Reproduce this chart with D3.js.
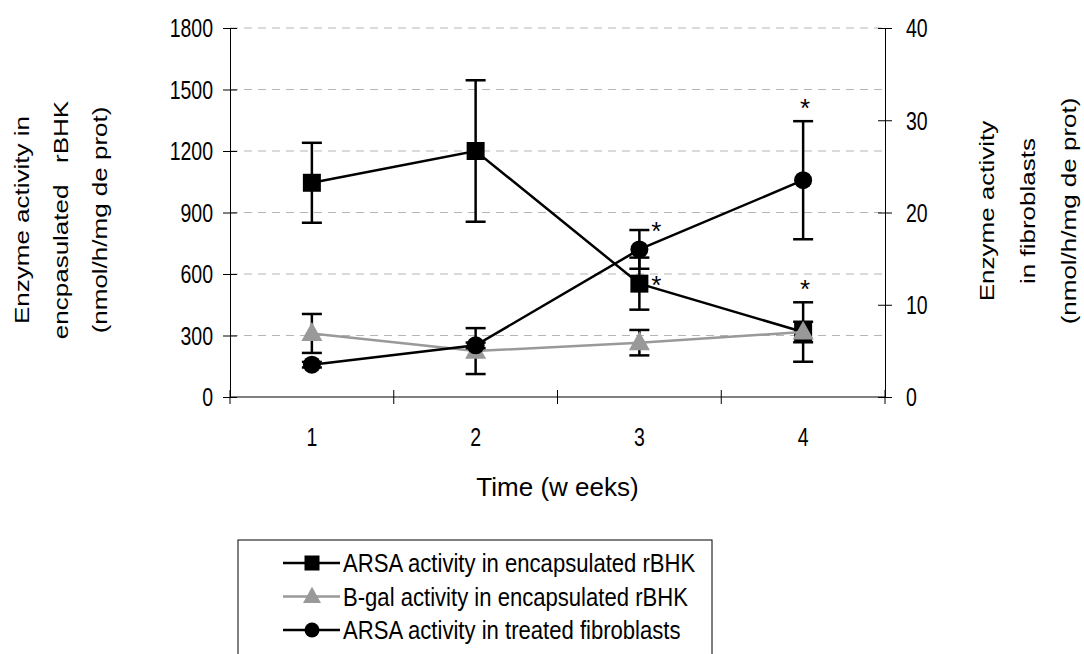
<!DOCTYPE html>
<html lang="en">
<head>
<meta charset="UTF-8">
<title>Enzyme activity over time</title>
<script src="https://d3js.org/d3.v7.min.js"></script>
<style>
  body { margin: 0; background: #fff; }
  svg { display: block; font-family: "Liberation Sans", Arial, sans-serif; }
  text { fill: #000; }
</style>
</head>
<body>
<svg width="1084" height="654"></svg>
<script>
const weeks = [1, 2, 3, 4];
const leftTicks = [0, 300, 600, 900, 1200, 1500, 1800];
const rightTicks = [0, 10, 20, 30, 40];

// left axis (nmol/h/mg prot)
const arsaRbhk = [1045, 1200, 553, 317];
const arsaRbhkErr = [195, 345, 127, 145];
const bgalRbhk = [310, 224, 265, 317];
const bgalRbhkErr = [95, 112, 62, 50];
// right axis
const arsaFibro = [3.5, 5.6, 16.0, 23.5];
const arsaFibroErr = [0.3, 0.3, 2.1, 6.4];

const seriesNames = [
  "ARSA activity in encapsulated rBHK",
  "B-gal activity in encapsulated rBHK",
  "ARSA activity in treated fibroblasts"
];

// significance marks
const stars = [
  { series: 2, week: 3, at: "cap", side: "right" },
  { series: 0, week: 3, at: "marker", side: "right" },
  { series: 2, week: 4, at: "cap", side: "above" },
  { series: 0, week: 4, at: "cap", side: "above" }
];

const svg = d3.select("svg");
const plotL = 230, plotR = 885, plotT = 28, plotB = 397;
const fs = 26;       // text is tall and narrow in the original
const sxTick = 0.75, sxLegend = 0.85;

const x = d3.scaleBand().domain(weeks).range([plotL, plotR]);
const yL = d3.scaleLinear().domain([0, 1800]).range([plotB, plotT]);
const yR = d3.scaleLinear().domain([0, 40]).range([plotB, plotT]);
const cx = w => x(w) + x.bandwidth() / 2;

// squeeze tick labels horizontally around their anchor
function narrowTicks(g, sx) {
  g.selectAll(".tick text").each(function() {
    const t = d3.select(this);
    const tx = +t.attr("x") || 0;
    t.attr("x", 0).attr("transform", `translate(${tx},0) scale(${sx},1)`);
  });
}

// gridlines
svg.append("g").selectAll("line")
  .data(leftTicks.slice(1))
  .join("line")
  .attr("x1", plotL).attr("x2", plotR)
  .attr("y1", d => yL(d)).attr("y2", d => yL(d))
  .attr("stroke", "#b5b5b5")
  .attr("stroke-dasharray", "8,6");

// x axis
svg.append("line")
  .attr("x1", plotL).attr("x2", plotR)
  .attr("y1", yL(0)).attr("y2", yL(0))
  .attr("stroke", "#808080").attr("stroke-width", 2);

const bounds = weeks.map(w => x(w)).concat([x.range()[1]]);
svg.append("g").selectAll("line")
  .data(bounds)
  .join("line")
  .attr("x1", d => d).attr("x2", d => d)
  .attr("y1", yL(0) - 7).attr("y2", yL(0) + 7)
  .attr("stroke", "#000");

svg.append("g")
  .attr("transform", `translate(0,${yL(0)})`)
  .call(d3.axisBottom(x).tickSize(0).tickPadding(31))
  .call(g => g.select(".domain").remove())
  .call(g => narrowTicks(g, sxTick))
  .attr("font-size", fs).attr("font-family", null);

// left axis
svg.append("g")
  .attr("transform", `translate(${plotL},0)`)
  .call(d3.axisLeft(yL).tickValues(leftTicks).tickFormat(d3.format("d"))
    .tickSize(7).tickSizeOuter(0).tickPadding(10))
  .call(g => g.selectAll(".tick line").attr("x1", 7))
  .call(g => g.selectAll(".tick text").attr("dy", "0.34em"))
  .call(g => narrowTicks(g, sxTick))
  .attr("font-size", fs).attr("font-family", null);

// right axis
svg.append("g")
  .attr("transform", `translate(${plotR},0)`)
  .call(d3.axisRight(yR).tickValues(rightTicks).tickFormat(d3.format("d"))
    .tickSize(7).tickSizeOuter(0).tickPadding(14))
  .call(g => g.selectAll(".tick line").attr("x1", -7))
  .call(g => g.selectAll(".tick text").attr("dy", "0.34em"))
  .call(g => narrowTicks(g, sxTick))
  .attr("font-size", fs).attr("font-family", null);

// axis titles
svg.append("text")
  .attr("transform", `translate(${(plotL + plotR) / 2},487)`)
  .attr("dy", "0.35em")
  .attr("text-anchor", "middle").attr("font-size", fs)
  .text("Time (w eeks)");

const leftTitle = ["Enzyme activity in", "encpasulated   rBHK", "(nmol/h/mg de prot)"];
svg.append("g").selectAll("text")
  .data(leftTitle)
  .join("text")
  .attr("transform", (d, i) => `translate(${22 + i * 39},220) rotate(-90) scale(1,0.8)`)
  .attr("dy", "0.35em").attr("text-anchor", "middle").attr("font-size", fs)
  .style("white-space", "pre")
  .text(d => d);

const rightTitle = ["Enzyme activity", "in fibroblasts", "(nmol/h/mg de prot)"];
svg.append("g").selectAll("text")
  .data(rightTitle)
  .join("text")
  .attr("transform", (d, i) => `translate(${987 + i * 41},211) rotate(-90) scale(1,0.8)`)
  .attr("dy", "0.35em").attr("text-anchor", "middle").attr("font-size", fs)
  .text(d => d);

// series
const series = [
  { vals: arsaRbhk, err: arsaRbhkErr, y: yL, color: "#000", shape: "square" },
  { vals: bgalRbhk, err: bgalRbhkErr, y: yL, color: "#999999", shape: "triangle" },
  { vals: arsaFibro, err: arsaFibroErr, y: yR, color: "#000", shape: "circle" }
];

function markerPath(shape, s) {
  if (shape === "square") return d3.symbol(d3.symbolSquare, s * s)();
  if (shape === "circle") return d3.symbol(d3.symbolCircle, Math.PI * s * s / 4)();
  const h = s * 0.9;
  return `M0,${-h * 0.6}L${s / 2},${h * 0.4}L${-s / 2},${h * 0.4}Z`;
}

const capW = 10;
series.forEach(s => {
  const g = svg.append("g");
  const pts = weeks.map((w, i) => ({ w, v: s.vals[i], e: s.err[i] }));

  g.append("path")
    .datum(pts)
    .attr("fill", "none")
    .attr("stroke", s.color)
    .attr("stroke-width", 2.5)
    .attr("d", d3.line().x(d => cx(d.w)).y(d => s.y(d.v)));

  const eb = g.selectAll(".eb").data(pts).join("g").attr("class", "eb")
    .attr("stroke", "#000").attr("stroke-width", 2.5);
  eb.append("line")
    .attr("x1", d => cx(d.w)).attr("x2", d => cx(d.w))
    .attr("y1", d => s.y(d.v - d.e)).attr("y2", d => s.y(d.v + d.e));
  eb.append("line")
    .attr("x1", d => cx(d.w) - capW).attr("x2", d => cx(d.w) + capW)
    .attr("y1", d => s.y(d.v + d.e)).attr("y2", d => s.y(d.v + d.e));
  eb.append("line")
    .attr("x1", d => cx(d.w) - capW).attr("x2", d => cx(d.w) + capW)
    .attr("y1", d => s.y(d.v - d.e)).attr("y2", d => s.y(d.v - d.e));

  g.selectAll(".mk").data(pts).join("path").attr("class", "mk")
    .attr("transform", d => `translate(${cx(d.w)},${s.y(d.v)})`)
    .attr("d", markerPath(s.shape, s.shape === "triangle" ? 21 : 18))
    .attr("fill", s.color);
});

// stars
svg.append("g").selectAll("text")
  .data(stars)
  .join("text")
  .attr("font-size", fs)
  .attr("text-anchor", "middle")
  .attr("x", d => cx(d.week) + (d.side === "right" ? 17 : 2))
  .attr("y", d => {
    const s = series[d.series], i = weeks.indexOf(d.week);
    const yc = d.at === "cap" ? s.y(s.vals[i] + s.err[i]) : s.y(s.vals[i]);
    return (d.side === "right" ? yc - 4 : yc - 18) + 14;
  })
  .text("*");

// legend
const lg = svg.append("g");
lg.append("rect")
  .attr("x", 238).attr("y", 540).attr("width", 474).attr("height", 140)
  .attr("fill", "none").attr("stroke", "#000");
const ly = d3.scalePoint().domain(seriesNames).range([563, 630]);
seriesNames.forEach((name, i) => {
  const s = series[i];
  const row = lg.append("g").attr("transform", `translate(0,${ly(name)})`);
  row.append("line").attr("x1", 283).attr("x2", 340)
    .attr("stroke", s.color).attr("stroke-width", 2.5);
  row.append("path").attr("transform", "translate(312,0)")
    .attr("d", markerPath(s.shape, s.shape === "triangle" ? 18 : 15))
    .attr("fill", s.color);
  row.append("text")
    .attr("transform", `translate(343,0) scale(${sxLegend},1)`)
    .attr("dy", "0.35em")
    .attr("font-size", fs).text(name);
});
</script>
</body>
</html>
